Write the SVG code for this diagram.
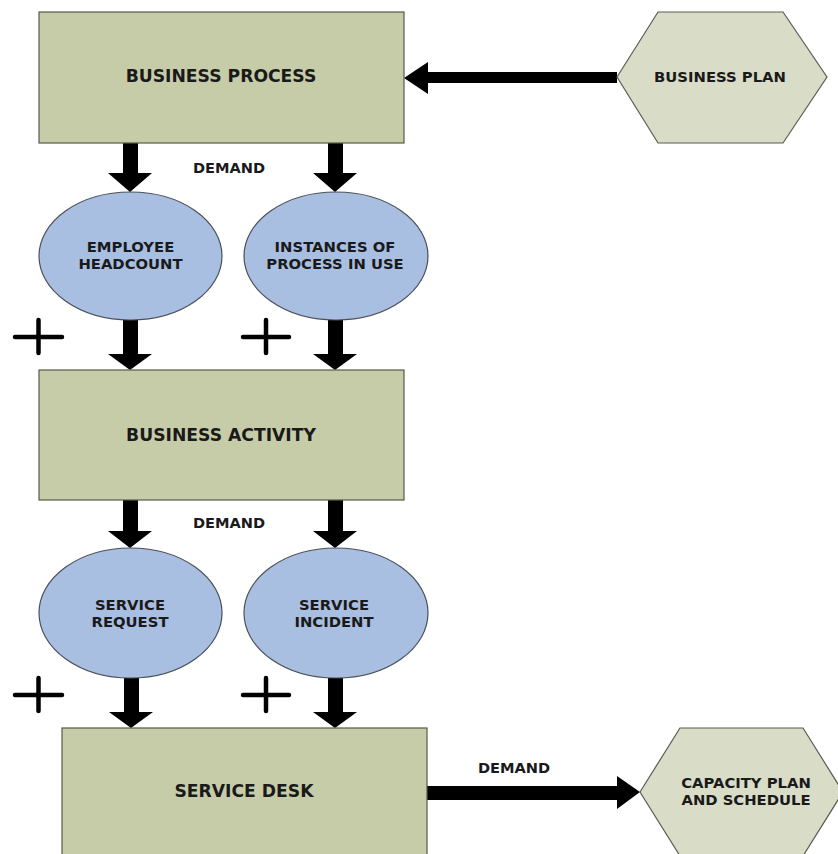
<svg xmlns="http://www.w3.org/2000/svg" width="838" height="854" viewBox="0 0 838 854">
  <style>
    .box { fill: #c6cca8; stroke: #555a4a; stroke-width: 1.2; }
    .hex { fill: #d9dcc7; stroke: #5a5d50; stroke-width: 1.2; }
    .oval { fill: #a9bfe2; stroke: #4a4f58; stroke-width: 1.2; }
    .lbl { font-family: "DejaVu Sans", "Liberation Sans", sans-serif; font-weight: 700; fill: #1a1a1a; text-anchor: middle; }
    .big { font-size: 17.2px; }
    .mid { font-size: 14.8px; }
    .sm { font-size: 14.6px; }
    .arrow { fill: #000; }
    .plus { stroke: #000; stroke-width: 4.5; stroke-linecap: round; fill: none; }
  </style>
  <rect width="838" height="854" fill="#fff"/>

  <!-- connectors -->
  <g id="connectors">
    <!-- business plan -> business process -->
    <polygon class="arrow" points="617,72 428,72 428,62 404,78 428,94 428,83 617,83"/>
    <!-- business process -> ovals -->
    <polygon class="arrow" points="123,143 138,143 138,173 152,173 130,192 108,173 123,173"/>
    <polygon class="arrow" points="328,143 343,143 343,173 357,173 335,192 313,173 328,173"/>
    <!-- ovals -> business activity -->
    <polygon class="arrow" points="123,320 138,320 138,354 152,354 130,370 108,354 123,354"/>
    <polygon class="arrow" points="328,320 343,320 343,354 357,354 335,370 313,354 328,354"/>
    <!-- business activity -> ovals -->
    <polygon class="arrow" points="123,500 138,500 138,531 152,531 130,548 108,531 123,531"/>
    <polygon class="arrow" points="328,500 343,500 343,531 357,531 335,548 313,531 328,531"/>
    <!-- ovals -> service desk -->
    <polygon class="arrow" points="124,678 139,678 139,712 153,712 131,728 109,712 124,712"/>
    <polygon class="arrow" points="328,678 343,678 343,712 357,712 335,728 313,712 328,712"/>
    <!-- service desk -> capacity plan -->
    <polygon class="arrow" points="427,786 617,786 617,776 640,792 617,809 617,800 427,800"/>
    <text class="lbl sm" x="229" y="173">DEMAND</text>
    <text class="lbl sm" x="229" y="528">DEMAND</text>
    <text class="lbl sm" x="514" y="773">DEMAND</text>
    <!-- plus signs -->
    <path class="plus" d="M15,337 H62 M38.5,320 V353"/>
    <path class="plus" d="M243,337 H289 M266,320 V353"/>
    <path class="plus" d="M15,695 H62 M38.5,678 V711"/>
    <path class="plus" d="M243,695 H289 M266,678 V711"/>
  </g>

  <g id="business-process">
    <rect class="box" x="39" y="12" width="365" height="131"/>
    <text class="lbl big" x="221" y="82">BUSINESS PROCESS</text>
  </g>

  <g id="business-plan">
    <polygon class="hex" points="617,77 658,12 783,12 827,77 783,143 658,143"/>
    <text class="lbl mid" x="720" y="82">BUSINESS PLAN</text>
  </g>

  <g id="employee-headcount">
    <ellipse class="oval" cx="130.5" cy="256" rx="91.5" ry="64"/>
    <text class="lbl mid" x="130.5" y="252">EMPLOYEE</text>
    <text class="lbl mid" x="130.5" y="269">HEADCOUNT</text>
  </g>

  <g id="process-instances">
    <ellipse class="oval" cx="336" cy="256" rx="92" ry="64"/>
    <text class="lbl mid" x="335" y="252">INSTANCES OF</text>
    <text class="lbl mid" x="335" y="269">PROCESS IN USE</text>
  </g>

  <g id="business-activity">
    <rect class="box" x="39" y="370" width="365" height="130"/>
    <text class="lbl big" x="221" y="441">BUSINESS ACTIVITY</text>
  </g>

  <g id="service-request">
    <ellipse class="oval" cx="130.5" cy="613" rx="91.5" ry="65"/>
    <text class="lbl mid" x="130" y="610">SERVICE</text>
    <text class="lbl mid" x="130" y="627">REQUEST</text>
  </g>

  <g id="service-incident">
    <ellipse class="oval" cx="336" cy="613" rx="92" ry="65"/>
    <text class="lbl mid" x="334" y="610">SERVICE</text>
    <text class="lbl mid" x="334" y="627">INCIDENT</text>
  </g>

  <g id="service-desk">
    <rect class="box" x="62" y="728" width="365" height="140"/>
    <text class="lbl big" x="244" y="797">SERVICE DESK</text>
  </g>

  <g id="capacity-plan">
    <polygon class="hex" points="640,792 680,728 803,728 843,792 803,856 680,856"/>
    <text class="lbl mid" x="746" y="788">CAPACITY PLAN</text>
    <text class="lbl mid" x="746" y="805">AND SCHEDULE</text>
  </g>
</svg>
